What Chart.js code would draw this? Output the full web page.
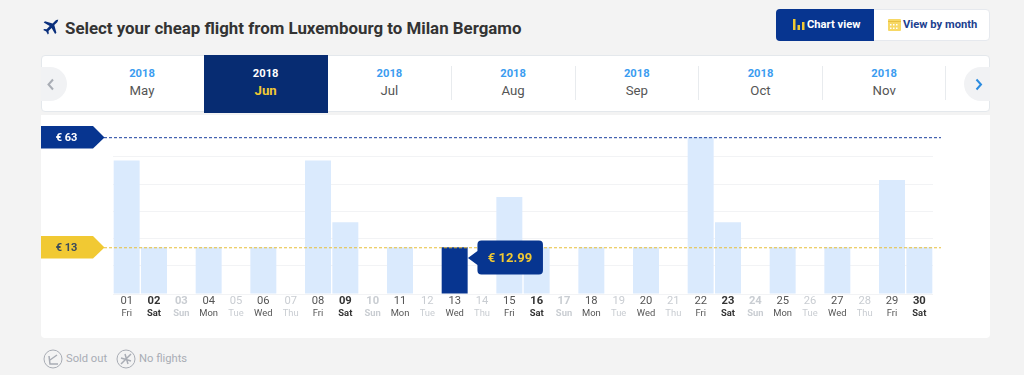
<!DOCTYPE html>
<html><head><meta charset="utf-8">
<script src="https://cdn.jsdelivr.net/npm/chart.js@4/dist/chart.umd.min.js"></script>
<style>
html,body{margin:0;padding:0;width:1024px;height:375px;overflow:hidden;background:#f3f3f3;font-family:Roboto,sans-serif}
.a{position:absolute}
#title{left:65px;top:18px;font-size:16.87px;font-weight:700;color:#333;white-space:nowrap;line-height:20px}
#btns{left:776px;top:9px;width:214px;height:32px;background:#fff;border:1px solid #e6e9ee;border-radius:4px;box-sizing:border-box}
#b1{left:776px;top:9px;width:98px;height:32px;background:#073590;border-radius:4px 0 0 4px}
.bt{font-size:11.2px;font-weight:700;line-height:16px;top:16.500px;white-space:nowrap}
#nav{left:41px;top:55px;width:949px;height:57px;background:#fff;border:1px solid #e4e8ec;border-radius:4px;box-sizing:border-box}
#panel{left:41px;top:115px;width:949px;height:223px;background:#fff;border-radius:0 0 4px 4px}
#sel{left:204px;top:55px;width:124px;height:58px;background:#072c72}
.cell{width:124px;text-align:center;top:67px}
.y{font-size:11.2px;font-weight:700;color:#3b9cf0;line-height:14px}
.m{font-size:13.2px;color:#555;line-height:20px;margin-top:0}
.sep{top:66px;width:1px;height:34px;background:#e8ebee}
.arrow{top:67px;width:26px;height:34px;background:#f1f2f4}
.lg{top:351px;font-size:11.2px;color:#a9adb5;line-height:16px;white-space:nowrap}
canvas{position:absolute;left:0;top:0}
</style></head><body>
<div class="a" id="panel"></div>
<svg class="a" style="left:42px;top:19px" width="18" height="18" viewBox="0 0 18 18"><path fill="#0a2f7c" d="M16.8 1.2c-.9-.9-2.5-.5-3.5.5L10.600 4.400 3 2.300 1.700 3.600l6 3.500-3.100 3.100-2.400-.3-1 1 3 1.600 1.600 3 1-1-.3-2.400 3.100-3.100 3.500 6 1.300-1.300-2.100-7.600 2.700-2.700c1-1 1.400-2.600.8-3.200z"/></svg>
<div class="a" id="title">Select your cheap flight from Luxembourg to Milan Bergamo</div>
<div class="a" id="btns"></div><div class="a" id="b1"></div>
<svg class="a" style="left:793px;top:18px" width="12" height="13"><rect x="0" y="1" width="2.500" height="11" fill="#f1c933"/><rect x="4.500" y="7" width="2.500" height="5" fill="#f1c933"/><rect x="9" y="4" width="2.500" height="8" fill="#f1c933"/></svg>
<div class="a bt" style="left:807px;color:#fff">Chart view</div>
<svg class="a" style="left:888px;top:18px" width="14" height="14"><rect x="0" y="1" width="13" height="12" rx="1" fill="#f7d865"/><rect x="0" y="3" width="13" height="1" fill="#e8c040"/><path d="M2 6h1.500v1.500H2zM5 6h1.500v1.500H5zM8 6h1.500v1.500H8zM2 9.500h1.500V11H2zM5 9.500h1.500V11H5zM8 9.500h1.500V11H8z" fill="#fff"/></svg>
<div class="a bt" style="left:903px;color:#1d3f8f">View by month</div>
<div class="a" id="nav"></div>
<div class="a arrow" style="left:41px;border-radius:0 17px 17px 0"></div>
<div class="a arrow" style="left:964px;border-radius:17px 0 0 17px"></div>
<svg class="a" style="left:47px;top:78px" width="8" height="13"><path d="M6 1.500 1.500 6.500 6 11.500" fill="none" stroke="#a9adb5" stroke-width="2"/></svg>
<svg class="a" style="left:975px;top:78px" width="8" height="13"><path d="M1.500 1.500 6 6.500 1.500 11.500" fill="none" stroke="#2a8be0" stroke-width="2"/></svg>
<div class="a" id="sel"></div>
<div id="months"></div>
<svg class="a" style="left:43px;top:349px" width="20" height="20" fill="none" stroke="#a9adb5"><circle cx="10" cy="10" r="9"/><path d="M14 6 7 11M6 7l1 8h8" stroke-width="1.500"/></svg>
<div class="a lg" style="left:66px">Sold out</div>
<svg class="a" style="left:116px;top:349px" width="20" height="20" fill="none" stroke="#a9adb5"><circle cx="10" cy="10" r="9"/><path d="M5 15 15 5M5 9l10 3M9 5l3 10" stroke-width="1.500"/></svg>
<div class="a lg" style="left:139px">No flights</div>
<canvas id="c" width="1024" height="375"></canvas>
<script>
const days=["01","02","03","04","05","06","07","08","09","10","11","12","13","14","15","16","17","18","19","20","21","22","23","24","25","26","27","28","29","30"];
const weekdays=["Fri","Sat","Sun","Mon","Tue","Wed","Thu","Fri","Sat","Sun","Mon","Tue","Wed","Thu","Fri","Sat","Sun","Mon","Tue","Wed","Thu","Fri","Sat","Sun","Mon","Tue","Wed","Thu","Fri","Sat"];
const prices=[52.3,12.99,null,12.99,null,12.99,null,52.3,24.4,null,12.99,null,12.99,null,35.8,12.99,null,12.99,null,12.99,null,63,24.4,null,12.99,null,12.99,null,43.5,12.99];
const gridValues=[4.55,16.97,29.38,41.7,54.07];
const axisMin=-8.14, axisMax=63;
const selectedIndex=12;
const selectedLabel="€ 12.99";
const maxPrice=63, minPrice=12.99;
const maxLabel="€ 63", minLabel="€ 13";
const years=["2018","2018","2018","2018","2018","2018","2018"];
const months=["May","Jun","Jul","Aug","Sep","Oct","Nov"];

const mh=document.getElementById('months');
months.forEach((m,i)=>{
  const c=document.createElement('div');c.className='a cell';c.style.left=(80+i*123.7)+'px';
  const on=i===1;
  c.innerHTML='<div class="y" style="'+(on?'color:#fff':'')+'">'+years[i]+'</div><div class="m" style="'+(on?'color:#f1c933;font-weight:700':'')+'">'+m+'</div>';
  mh.appendChild(c);
});
[451,574.5,698,822,945].forEach(x=>{const s=document.createElement('div');s.className='a sep';s.style.left=x+'px';mh.appendChild(s);});

const isOff=i=>prices[i]===null;
const isWeekendBold=i=>weekdays[i]==="Sat"||weekdays[i]==="Sun";
const tickColor=i=>isOff(i)?"#c9cdd2":(weekdays[i]==="Sat"?"#333":"#555");

const overlay={id:'overlay',afterDatasetsDraw(chart){
  const g=chart.ctx,y=chart.scales.y;
  function tag(v,label,fill,text,dash,off){
    const p=Math.round(y.getPixelForValue(v))+0.5;
    g.save();
    g.strokeStyle=dash;g.lineWidth=1;g.setLineDash([3,2]);
    g.beginPath();g.moveTo(104,p+off);g.lineTo(941,p+off);g.stroke();g.setLineDash([]);
    g.fillStyle=fill;g.beginPath();g.moveTo(41,p-11.500);g.lineTo(93,p-11.500);g.lineTo(104.500,p);g.lineTo(93,p+11);g.lineTo(41,p+11);g.closePath();g.fill();
    g.fillStyle=text;g.font='700 11px Roboto';g.textAlign='center';g.textBaseline='middle';g.fillText(label,66.500,p+0.500);
    g.restore();
  }
  tag(maxPrice,maxLabel,'#073590','#fff','#1b3f9e',0.2);
  tag(minPrice,minLabel,'#f1c933','#3a4a5a','#e8bf3a',0.25);
  const bar=chart.getDatasetMeta(0).data[selectedIndex];
  const bx=bar.x+bar.width/2+0.300, by=258;
  g.save();g.fillStyle='#073590';
  g.beginPath();g.moveTo(bx,by);g.lineTo(bx+9.500,by-7);g.lineTo(bx+9.500,by-13);g.arcTo(bx+9.500,by-17.500,bx+14,by-17.500,4);g.lineTo(bx+71,by-17.500);g.arcTo(bx+75,by-17.500,bx+75,by-13,4);g.lineTo(bx+75,by+13);g.arcTo(bx+75,by+16.500,bx+71,by+16.500,4);g.lineTo(bx+14,by+16.500);g.arcTo(bx+9.500,by+16.500,bx+9.500,by+12,4);g.lineTo(bx+9.500,by+7);g.closePath();g.fill();
  g.fillStyle='#f1c933';g.font='700 13px Roboto';g.textAlign='center';g.textBaseline='middle';g.fillText(selectedLabel,bx+42,by+0.500);
  g.restore();
}};

new Chart(document.getElementById('c'),{
  type:'bar',
  data:{labels:days,datasets:[{data:prices,base:axisMin,barPercentage:0.95,categoryPercentage:1,
    backgroundColor:c=>c.dataIndex===selectedIndex?'#073590':'#daeafd'}]},
  plugins:[overlay],
  options:{responsive:false,animation:false,
    layout:{padding:{left:113,right:91,top:137,bottom:54}},
    plugins:{legend:{display:false},tooltip:{enabled:false}},
    scales:{
      y:{display:true,min:axisMin,max:axisMax,position:'left',
        afterFit(s){s.width=0},
        afterBuildTicks(s){s.ticks=[axisMin].concat(gridValues).map(v=>({value:v}))},
        ticks:{display:false},border:{display:false},
        grid:{color:'#f2f3f5',lineWidth:1,drawTicks:false}},
      x:{type:'category',position:'bottom',weight:0,
        afterFit(s){s.height=14},
        grid:{display:false,drawTicks:false},border:{display:false},
        ticks:{autoSkip:false,maxRotation:0,minRotation:0,padding:0,
          color:c=>tickColor(c.index),
          font:c=>({family:'Roboto',size:11.2,weight:isWeekendBold(c.index)?'700':'400'})}},
      x2:{type:'category',position:'bottom',weight:1,labels:weekdays,
        afterFit(s){s.height=13},
        grid:{display:false,drawTicks:false},border:{display:false},
        ticks:{autoSkip:false,maxRotation:0,minRotation:0,padding:0,
          color:c=>tickColor(c.index),
          font:c=>({family:'Roboto',size:9.4,weight:isWeekendBold(c.index)?'700':'400'})}}
    }
  }
});
</script>
</body></html>
